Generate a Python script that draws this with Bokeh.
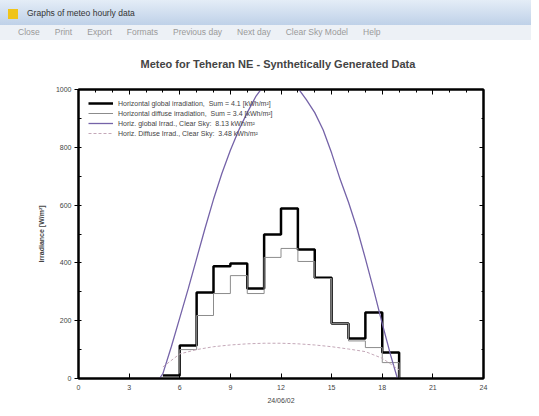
from bokeh.plotting import figure
from bokeh.models import Range1d, LinearAxis, FixedTicker, Div, Legend, LegendItem
from bokeh.layouts import column
from bokeh.embed import file_html
from bokeh.resources import INLINE

# ---- data ----
hours_meas = [5, 6, 7, 8, 9, 10, 11, 12, 13, 14, 15, 16, 17, 18, 19]
global_meas = [10, 114, 298, 388, 398, 311, 498, 588, 446, 349, 190, 138, 228, 90, 0]
diffuse_meas = [5, 100, 218, 294, 356, 294, 419, 450, 405, 346, 190, 130, 107, 55, 0]

hours_cs = [4.8, 5, 5.5, 6, 6.5, 7, 7.5, 8, 8.5, 9, 9.5, 10, 10.5, 11, 11.5, 12,
            12.5, 13, 13.5, 14, 14.5, 15, 15.5, 16, 16.5, 17, 17.5, 18, 18.5, 18.9]
global_cs = [0, 17, 110, 210, 310, 415, 520, 620, 710, 790, 860, 920, 975, 1015, 1040,
             1045, 1035, 1005, 965, 920, 860, 780, 690, 610, 520, 415, 305, 190, 80, 0]

hours_csd = [5, 6, 7, 8, 9, 10, 11, 12, 13, 14, 15, 16, 17, 18, 19]
diffuse_cs = [40, 85, 100, 110, 116, 120, 122, 122, 120, 116, 110, 102, 93, 70, 30]

x_ticks = [0, 3, 6, 9, 12, 15, 18, 21, 24]
y_ticks = [0, 200, 400, 600, 800, 1000]

title_text = "Meteo for Teheran NE  -  Synthetically Generated Data"
x_label = "24/06/02"
y_label = "Irradiance [W/m\u00b2]"
legend_labels = [
    "Horizontal global irradiation,  Sum = 4.1 [kWh/m\u00b2]",
    "Horizontal diffuse irradiation,  Sum = 3.4 [kWh/m\u00b2]",
    "Horiz. global Irrad., Clear Sky:  8.13 kWh/m\u00b2",
    "Horiz. Diffuse Irrad., Clear Sky:  3.48 kWh/m\u00b2",
]
window_title = "Graphs of meteo hourly data"
menu_items = ["Close", "Print", "Export", "Formats", "Previous day", "Next day",
              "Clear Sky Model", "Help"]

FONT = "Liberation Sans"
W = 531

# ---- window chrome ----
titlebar = Div(
    text=("<span style='display:inline-block;width:10px;height:10px;background:#f0c419;"
          "margin-right:9px;vertical-align:middle'></span>" + window_title),
    width=W, height=25, margin=0,
    styles={"background": "linear-gradient(#e4edf7, #bfd1e8)", "font-family": FONT,
            "font-size": "8.5px", "color": "#333", "padding-left": "8px",
            "line-height": "27px", "box-sizing": "border-box", "width": "%dpx" % W},
)
menubar = Div(
    text="".join("<span style='margin-right:15px'>%s</span>" % m for m in menu_items),
    width=W, height=15, margin=0,
    styles={"background": "#edf1f6", "font-family": FONT, "font-size": "8.5px",
            "color": "#9a9a9a", "padding-left": "18px", "line-height": "14px",
            "box-sizing": "border-box", "width": "%dpx" % W},
)

# ---- chart ----
p = figure(width=W, height=368, output_backend="svg", toolbar_location=None,
           x_range=Range1d(0, 24), y_range=Range1d(0, 1000),
           min_border_left=78, min_border_right=48, min_border_top=48,
           min_border_bottom=30, border_fill_color="white",
           background_fill_color="white", title=title_text, margin=0)
p.title.align = "center"
p.title.vertical_align = "top"
p.title.text_font = FONT
p.title.text_font_size = "11px"
p.title.text_font_style = "bold"
p.title.standoff = 35
p.outline_line_color = "black"
p.outline_line_width = 2
p.grid.visible = False

xt = FixedTicker(ticks=x_ticks, minor_ticks=list(range(25)))
yt = FixedTicker(ticks=y_ticks, minor_ticks=list(range(0, 1001, 100)))

xa = p.xaxis[0]
xa.ticker = xt
xa.axis_label = x_label
xa.axis_label_text_font = FONT
xa.axis_label_text_font_size = "7px"
xa.axis_label_text_font_style = "normal"
xa.axis_label_standoff = 4
xa.major_label_text_font = FONT
xa.major_label_text_font_size = "7px"
xa.major_label_standoff = 6
xa.major_tick_in = 5
xa.major_tick_out = 0
xa.minor_tick_in = 0
xa.minor_tick_out = 0
xa.axis_line_width = 2

ya = p.yaxis[0]
ya.ticker = yt
ya.axis_label = y_label
ya.axis_label_text_font = FONT
ya.axis_label_text_font_size = "7px"
ya.axis_label_text_font_style = "bold"
ya.axis_label_standoff = 8
ya.major_label_text_font = FONT
ya.major_label_text_font_size = "7px"
ya.major_label_standoff = 3
ya.major_tick_in = 0
ya.major_tick_out = 4
ya.minor_tick_in = 3
ya.minor_tick_out = 0
ya.axis_line_width = 2

top_axis = LinearAxis(ticker=xt, major_tick_in=5, major_tick_out=0, minor_tick_in=3,
                      minor_tick_out=0, axis_line_width=2,
                      major_label_overrides={t: "" for t in x_ticks})
right_axis = LinearAxis(ticker=yt, major_tick_in=4, major_tick_out=0, minor_tick_in=2,
                        minor_tick_out=0, axis_line_width=2,
                        major_label_overrides={t: "" for t in y_ticks})
p.add_layout(top_axis, "above")
p.add_layout(right_axis, "right")

r1 = p.step(hours_meas, global_meas, mode="after", line_color="black", line_width=2.5)
r2 = p.step(hours_meas, diffuse_meas, mode="after", line_color="#8c8c8c", line_width=1)
r3 = p.line(hours_cs, global_cs, line_color="#7563a8", line_width=1.3)
r4 = p.line(hours_csd, diffuse_cs, line_color="#c4a8b8", line_width=1, line_dash="3 2")

legend = Legend(items=[LegendItem(label=legend_labels[0], renderers=[r1]),
                       LegendItem(label=legend_labels[1], renderers=[r2]),
                       LegendItem(label=legend_labels[2], renderers=[r3]),
                       LegendItem(label=legend_labels[3], renderers=[r4])],
                location="top_left")
legend.background_fill_alpha = 0
legend.border_line_color = None
legend.label_text_font = FONT
legend.label_text_font_size = "7px"
legend.label_text_color = "#444"
legend.glyph_width = 25
legend.glyph_height = 8
legend.label_height = 8
legend.spacing = 2
legend.padding = 2
legend.margin = 10
p.add_layout(legend)

layout = column(titlebar, menubar, p, spacing=0)

open("out.html", "w").write(file_html(layout, INLINE))
